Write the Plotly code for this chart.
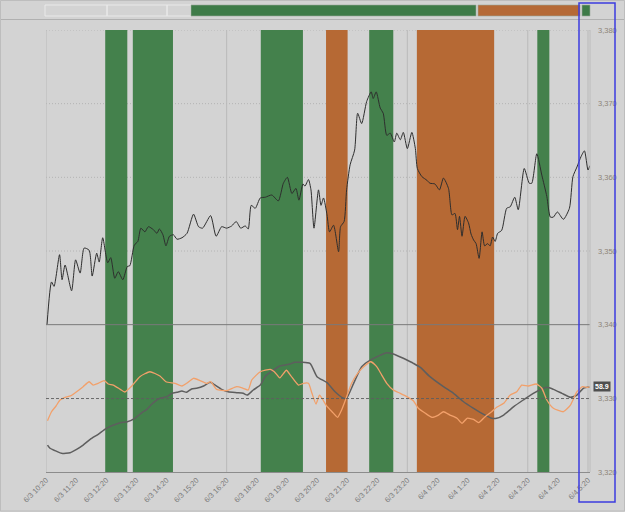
import plotly.graph_objects as go

# ---------------- data ----------------
tick_labels = ["6/3 10:20", "6/3 11:20", "6/3 12:20", "6/3 13:20", "6/3 14:20", "6/3 15:20",
               "6/3 16:20", "6/3 18:20", "6/3 19:20", "6/3 20:20", "6/3 21:20", "6/3 22:20",
               "6/3 23:20", "6/4 0:20", "6/4 1:20", "6/4 2:20", "6/4 3:20", "6/4 4:20", "6/4 5:20"]
grid_tick_idx = [0, 6, 12, 16, 18]          # ticks that carry a vertical gridline

# trading minutes since 6/3 10:20
price_t = [2, 11, 16, 27, 32, 38, 51, 59, 68, 76,
           86, 92, 101, 106, 113, 123, 129, 137, 144, 153,
           162, 167, 176, 183, 189, 197, 204, 214, 221, 226,
           233, 239, 246, 254, 261, 271, 281, 294, 304, 312,
           328, 339, 350, 360, 370, 379, 388, 397, 403, 409,
           417, 427, 437, 450, 463, 473, 481, 490, 498, 504,
           512, 516, 523, 528, 534, 543, 548, 553, 560, 565,
           573, 583, 587, 594, 599, 606, 615, 621, 629, 639,
           648, 652, 658, 666, 672, 679, 686, 694, 699, 706,
           712, 720, 729, 736, 740, 749, 759, 765, 775, 784,
           792, 802, 809, 815, 820, 824, 829, 835, 842, 847,
           852, 857, 863, 869, 874, 880, 885, 890, 895, 900,
           908, 918, 925, 934, 941, 953, 963, 968, 978, 988,
           998, 1005, 1011, 1019, 1031, 1043, 1050, 1058, 1066, 1073,
           1080, 1084]
price_v = [3340.0, 3345.8, 3345.2, 3349.5, 3346.1, 3348.1, 3344.6, 3348.8, 3347.0, 3350.4,
           3350.1, 3346.6, 3349.7, 3348.5, 3351.8, 3348.4, 3349.1, 3346.3, 3347.2, 3346.1,
           3347.9, 3348.0, 3350.8, 3351.3, 3353.1, 3352.6, 3353.3, 3352.9, 3352.4, 3353.0,
           3352.2, 3350.7, 3352.0, 3352.2, 3351.6, 3351.8, 3352.4, 3355.0, 3353.3, 3353.1,
           3354.8, 3352.0, 3353.3, 3353.1, 3353.4, 3354.0, 3353.1, 3353.4, 3353.0, 3356.2,
           3355.8, 3357.2, 3357.3, 3357.6, 3356.8, 3359.2, 3360.0, 3357.8, 3358.5, 3356.9,
           3359.1, 3358.8, 3359.7, 3358.3, 3353.1, 3358.3, 3356.2, 3357.2, 3354.9, 3352.6,
           3353.5, 3349.9, 3353.3, 3354.0, 3358.3, 3361.7, 3363.7, 3368.7, 3367.3, 3370.3,
           3371.6, 3370.7, 3371.6, 3369.4, 3368.7, 3365.7, 3366.0, 3364.8, 3366.0, 3365.1,
           3366.1, 3363.9, 3366.1, 3363.9, 3361.2, 3360.1, 3359.6, 3359.2, 3359.1, 3358.3,
           3359.9, 3358.5, 3354.9, 3355.1, 3352.9, 3354.7, 3352.0, 3354.7, 3353.8, 3352.3,
           3351.5, 3351.0, 3349.0, 3352.6, 3350.7, 3351.0, 3350.7, 3351.9, 3351.3, 3352.4,
           3352.8, 3355.8, 3356.0, 3357.3, 3355.6, 3361.2, 3359.2, 3359.2, 3363.2, 3360.3,
           3357.4, 3354.6, 3354.6, 3355.3, 3354.3, 3355.8, 3360.1, 3361.4, 3362.8, 3363.6,
           3361.0, 3361.6]

grey_t = [3, 8, 18, 31, 48, 61, 74, 88, 104, 118,
          131, 148, 162, 177, 191, 201, 211, 227, 241, 251,
          261, 271, 280, 290, 300, 314, 327, 337, 350, 363,
          380, 393, 401, 413, 427, 437, 450, 466, 486, 496,
          526, 540, 560, 576, 593, 599, 613, 629, 649, 679,
          692, 712, 726, 732, 746, 765, 792, 812, 832, 852,
          875, 888, 898, 912, 932, 951, 971, 998, 1011, 1028,
          1045, 1058, 1071, 1084]
grey_v = [15.1, 12.7, 10.9, 8.9, 9.4, 11.9, 15.1, 19.4, 23.2, 27.1,
          29.6, 31.9, 32.6, 35.2, 39.4, 41.9, 45.9, 50.2, 51.4, 53.9,
          54.7, 55.6, 54.7, 57.1, 57.7, 59.4, 62.2, 60.1, 56.9, 55.1,
          54.4, 53.9, 52.6, 56.4, 60.1, 66.6, 70.5, 74.4, 75.9, 77.2,
          76.4, 66.4, 61.9, 55.1, 50.2, 50.2, 61.4, 73.9, 79.4, 84.4,
          83.4, 80.2, 77.6, 76.4, 73.3, 66.4, 58.9, 53.9, 47.6, 42.7,
          37.6, 35.2, 35.2, 37.6, 43.9, 48.9, 53.9, 58.4, 56.9, 53.9,
          50.9, 52.6, 57.7, 58.6]

orange_t = [3, 11, 20, 28, 38, 51, 61, 74, 86, 94,
            104, 116, 124, 134, 148, 157, 171, 187, 207, 227,
            239, 257, 271, 280, 294, 307, 320, 328, 340, 360,
            380, 393, 403, 410, 427, 447, 455, 466, 479, 488,
            503, 513, 523, 530, 538, 545, 552, 558, 570, 581,
            589, 598, 609, 621, 633, 647, 659, 669, 679, 692,
            706, 719, 732, 742, 756, 769, 782, 792, 805, 819,
            829, 839, 852, 862, 875, 888, 898, 912, 925, 938,
            948, 961, 977, 988, 998, 1011, 1031, 1045, 1058, 1069,
            1079, 1084]
orange_v = [33.4, 40.1, 44.4, 48.9, 50.9, 52.4, 55.1, 58.9, 62.6, 60.1,
            61.4, 63.4, 60.9, 60.1, 56.9, 54.9, 59.4, 66.4, 70.1, 66.9,
            62.6, 61.4, 59.4, 61.4, 65.2, 63.4, 61.4, 62.6, 56.9, 55.9,
            58.9, 57.7, 56.4, 63.9, 70.1, 71.9, 70.1, 65.5, 71.2, 67.0,
            60.1, 61.4, 61.4, 53.9, 45.9, 52.6, 48.9, 45.1, 40.1, 35.9,
            41.4, 50.2, 61.4, 68.9, 73.9, 77.6, 73.9, 67.6, 61.4, 56.4,
            53.9, 51.4, 48.3, 42.7, 38.9, 35.9, 37.6, 40.1, 37.6, 35.2,
            31.4, 35.2, 34.4, 31.9, 36.4, 40.1, 43.4, 46.4, 52.6, 55.1,
            60.1, 59.4, 60.9, 57.7, 48.9, 42.7, 40.1, 45.1, 55.1, 58.9,
            58.4, 58.9]

band_start = [118, 173, 428, 558, 644, 739, 979]
band_end = [162, 253, 512, 601, 692, 893, 1003]
band_kind = ["long", "long", "long", "short", "long", "short", "long"]

last_value = 58.9
price_ticks = [3320, 3330, 3340, 3350, 3360, 3370, 3380]
dotted_grid = [3350, 3360, 3370, 3380]
price_range = [3320, 3380]
osc_range = [-5.1, 326.4]
x_range = [0, 1084]
osc_mid = 50

# ---------------- style ----------------
BG = "#d3d3d3"
GREEN = "#44814c"
ORANGE = "#b66934"
FONT = "Liberation Sans"

fig = go.Figure()
fig.add_trace(go.Scatter(x=price_t, y=price_v, mode="lines",
                         line=dict(color="#2e2e2e", width=1, shape="spline", smoothing=0.6),
                         hoverinfo="skip", showlegend=False))
fig.add_trace(go.Scatter(x=grey_t, y=grey_v, yaxis="y2", mode="lines",
                         line=dict(color="#5e5e5e", width=1.5, shape="spline", smoothing=0.5),
                         hoverinfo="skip", showlegend=False))
fig.add_trace(go.Scatter(x=orange_t, y=orange_v, yaxis="y2", mode="lines",
                         line=dict(color="#f2a06a", width=1.3, shape="spline", smoothing=0.5),
                         hoverinfo="skip", showlegend=False))

shapes = []
# horizontal dotted gridlines (drawn first so the bands cover them)
for g in dotted_grid:
    shapes.append(dict(type="line", xref="paper", yref="y", x0=0, x1=1, y0=g, y1=g,
                       line=dict(color="#b4b4b4", width=1, dash="1px,2px"), layer="below"))
# vertical gridlines at selected ticks
for k in grid_tick_idx:
    shapes.append(dict(type="line", xref="x", yref="paper", x0=k * 60, x1=k * 60, y0=0, y1=1,
                       line=dict(color="#bababa", width=1), layer="below"))
# signal bands
for s, e, kind in zip(band_start, band_end, band_kind):
    shapes.append(dict(type="rect", xref="x", yref="paper", x0=s, x1=e, y0=0, y1=1,
                       fillcolor=GREEN if kind == "long" else ORANGE,
                       line=dict(width=0), layer="below"))
# reference lines
shapes.append(dict(type="line", xref="paper", yref="y", x0=0, x1=1, y0=3340, y1=3340,
                   line=dict(color="#7a7a7a", width=1), layer="above"))
shapes.append(dict(type="line", xref="paper", yref="y2", x0=0, x1=1, y0=osc_mid, y1=osc_mid,
                   line=dict(color="#5f5f5f", width=0.9, dash="3px,2px"), layer="above"))
shapes.append(dict(type="line", xref="paper", yref="paper", x0=1, x1=1, y0=0, y1=1,
                   line=dict(color="#bcbcbc", width=1), layer="above"))

# top navigator strip (pixel -> paper helpers)
W, H, L, T, R, B = 625, 512, 46, 30, 35, 40
pw, ph = W - L - R, H - T - B
px = lambda v: (v - L) / pw
py = lambda v: (H - B - v) / ph
for a, b in [(45, 107), (107, 167), (167, 191)]:
    shapes.append(dict(type="rect", xref="paper", yref="paper", x0=px(a), x1=px(b),
                       y0=py(16), y1=py(5), line=dict(color="#e9e9e9", width=1),
                       fillcolor="rgba(0,0,0,0)", layer="above"))
for a, b, c in [(191, 476, "#3e7b48"), (478, 580, "#b56a37"), (582, 590, "#3e7b48")]:
    shapes.append(dict(type="rect", xref="paper", yref="paper", x0=px(a), x1=px(b),
                       y0=py(16), y1=py(5), line=dict(color="#9aaa9a", width=0.6),
                       fillcolor=c, layer="above"))
shapes.append(dict(type="line", xref="paper", yref="paper", x0=px(0), x1=px(625),
                   y0=py(19.5), y1=py(19.5), line=dict(color="#b0b0b0", width=1), layer="above"))
shapes.append(dict(type="rect", xref="paper", yref="paper", x0=px(0.5), x1=px(624.5),
                   y0=py(511), y1=py(0.5), line=dict(color="#bdbdbd", width=1),
                   fillcolor="rgba(0,0,0,0)", layer="above"))
shapes.append(dict(type="rect", xref="paper", yref="paper", x0=px(579), x1=px(615),
                   y0=py(502), y1=py(3), line=dict(color="#3c3ce0", width=1.5),
                   fillcolor="rgba(0,0,0,0)", layer="above"))

fig.update_layout(
    width=W, height=H,
    margin=dict(l=L, r=R, t=T, b=B, pad=0, autoexpand=False),
    paper_bgcolor=BG, plot_bgcolor=BG,
    font=dict(family=FONT, size=7, color="#7a7a7a"),
    shapes=shapes,
    xaxis=dict(range=x_range, tickvals=[k * 60 for k in range(len(tick_labels))],
               ticktext=tick_labels, tickangle=-45, showgrid=False, zeroline=False,
               showline=True, linecolor="#8c8c8c", linewidth=1, ticks="", automargin=False,
               tickfont=dict(size=7.5, color="#7a7a7a"), fixedrange=True),
    yaxis=dict(range=price_range, tickvals=price_ticks, tickformat=",d", side="right",
               showgrid=False, zeroline=False, showline=False, ticks="",
               ticklabelstandoff=7, automargin=False,
               tickfont=dict(size=7.5, color="#8d8578")),
    yaxis2=dict(range=osc_range, overlaying="y", visible=False),
    annotations=[dict(xref="paper", yref="y2", x=px(593), y=last_value, xanchor="left",
                      yanchor="middle", text=f"<b>{last_value}</b>", showarrow=False,
                      bgcolor="#4f4f4f", font=dict(color="#ffffff", size=7, family=FONT),
                      borderpad=1)],
)

fig.write_html("out.html")
